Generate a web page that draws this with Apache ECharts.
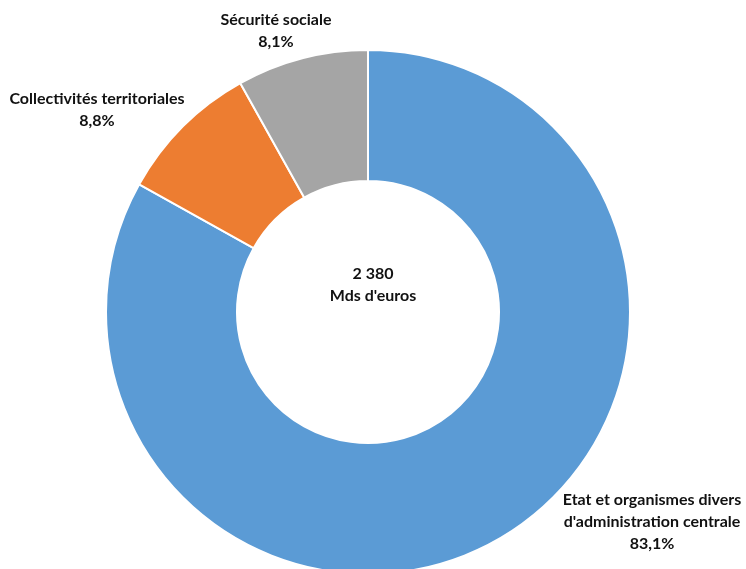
<!DOCTYPE html>
<html>
<head>
<meta charset="utf-8">
<script src="https://cdn.jsdelivr.net/npm/echarts@6/dist/echarts.min.js"></script>
<style>
  html, body { margin: 0; padding: 0; background: #fff; }
  #chart { width: 746px; height: 569px; }
</style>
</head>
<body>
<div id="chart"></div>
<script>
const categories = ['Etat et organismes divers\nd\'administration centrale', 'Collectivités territoriales', 'Sécurité sociale'];
const shares = [83.1, 8.8, 8.1];
const colors = ['#5B9BD5', '#ED7D31', '#A5A5A5'];
const totalLabel = '2 380\nMds d\'euros';

// label placement (centre of each text block), as in the source figure
const labelPos = [
  { x: 652, y: 522 },
  { x: 97, y: 110 },
  { x: 276, y: 31 }
];

const chart = echarts.init(document.getElementById('chart'));
chart.setOption({
  animation: false,
  color: colors,
  title: {
    text: totalLabel,
    left: 368,
    top: 280,
    textAlign: 'center',
    textVerticalAlign: 'middle',
    textStyle: {
      fontFamily: 'Lato',
      fontWeight: 'bold',
      fontSize: 16,
      lineHeight: 22,
      color: '#111'
    }
  },
  series: [
    {
      type: 'pie',
      center: [368, 312],
      radius: [131, 262],
      startAngle: 90,
      clockwise: true,
      avoidLabelOverlap: false,
      itemStyle: {
        borderColor: '#fff',
        borderWidth: 2
      },
      label: {
        show: true,
        position: 'outside',
        fontFamily: 'Lato',
        fontWeight: 'bold',
        fontSize: 16,
        lineHeight: 22,
        color: '#111',
        align: 'center',
        formatter: (p) => p.name + '\n' + p.value.toFixed(1).replace('.', ',') + '%'
      },
      labelLine: { show: false },
      labelLayout: (params) => ({
        x: labelPos[params.dataIndex].x,
        y: labelPos[params.dataIndex].y,
        align: 'center',
        verticalAlign: 'middle'
      }),
      emphasis: { disabled: true },
      data: categories.map((name, i) => ({ name, value: shares[i] }))
    }
  ]
});
</script>
</body>
</html>
